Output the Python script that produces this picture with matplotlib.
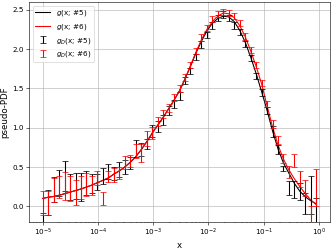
import numpy as np
import matplotlib
matplotlib.use('Agg')
import matplotlib.pyplot as plt

# x grid of the 51 bins (log spaced, 1e-5 .. 0.9)
x = np.geomspace(1e-5, 0.9, 51)

# smooth curves g(x; #5) and g(x; #6)
g5 = [0.10, 0.115, 0.125, 0.14, 0.16, 0.18, 0.20, 0.22, 0.245, 0.27,
      0.30, 0.33, 0.36, 0.41, 0.45, 0.50, 0.56, 0.63, 0.72, 0.82,
      0.93, 1.03, 1.13, 1.24, 1.35, 1.47, 1.62, 1.78, 1.95, 2.10,
      2.23, 2.33, 2.39, 2.42, 2.41, 2.35, 2.24, 2.09, 1.90, 1.69,
      1.46, 1.22, 0.96, 0.73, 0.55, 0.42, 0.29, 0.19, 0.12, 0.07,
      0.03]
g6 = [0.10, 0.115, 0.125, 0.14, 0.16, 0.18, 0.20, 0.22, 0.245, 0.27,
      0.30, 0.33, 0.36, 0.41, 0.45, 0.50, 0.56, 0.63, 0.72, 0.82,
      0.93, 1.03, 1.13, 1.24, 1.35, 1.47, 1.62, 1.79, 1.96, 2.12,
      2.25, 2.35, 2.42, 2.46, 2.45, 2.40, 2.30, 2.16, 1.98, 1.78,
      1.56, 1.28, 1.01, 0.78, 0.60, 0.46, 0.35, 0.25, 0.16, 0.08,
      0.02]

# binned data g_D with errors
gd5 = [-0.20, 0.05, 0.215, 0.30, 0.385, 0.24, 0.26, 0.245, 0.295, 0.29,
       0.31, 0.39, 0.44, 0.42, 0.47, 0.50, 0.55, 0.74, 0.72, 0.79,
       0.96, 1.02, 1.10, 1.22, 1.30, 1.40, 1.60, 1.72, 1.90, 2.06,
       2.18, 2.30, 2.40, 2.44, 2.40, 2.30, 2.22, 2.07, 1.89, 1.66,
       1.45, 1.22, 0.95, 0.725, 0.48, 0.235, 0.215, 0.19, 0.035, 0.14,
       -0.08]
err5 = [0.12, 0.155, 0.157, 0.165, 0.19, 0.165, 0.17, 0.175, 0.155, 0.12,
        0.10, 0.10, 0.095, 0.08, 0.10, 0.09, 0.08, 0.11, 0.085, 0.065,
        0.08, 0.07, 0.06, 0.06, 0.05, 0.05, 0.04, 0.04, 0.04, 0.04,
        0.04, 0.04, 0.04, 0.04, 0.04, 0.04, 0.04, 0.04, 0.04, 0.04,
        0.04, 0.045, 0.07, 0.06, 0.035, 0.085, 0.105, 0.11, 0.135, 0.24,
        0.19]
gd6 = [0.045, 0.04, 0.21, 0.25, 0.26, 0.23, 0.18, 0.24, 0.28, 0.27,
       0.36, 0.10, 0.38, 0.40, 0.42, 0.555, 0.575, 0.705, 0.68, 0.865,
       0.93, 1.08, 1.17, 1.25, 1.38, 1.50, 1.64, 1.80, 1.98, 2.15,
       2.27, 2.38, 2.45, 2.47, 2.46, 2.42, 2.33, 2.16, 1.99, 1.80,
       1.57, 1.30, 1.05, 0.84, 0.61, 0.44, 0.58, 0.345, 0.235, -0.13,
       0.235]
err6 = [0.155, 0.15, 0.155, 0.14, 0.18, 0.16, 0.16, 0.15, 0.15, 0.12,
        0.09, 0.085, 0.07, 0.09, 0.075, 0.085, 0.08, 0.085, 0.11, 0.095,
        0.075, 0.06, 0.05, 0.05, 0.045, 0.04, 0.04, 0.04, 0.04, 0.04,
        0.04, 0.04, 0.04, 0.04, 0.04, 0.04, 0.04, 0.04, 0.04, 0.04,
        0.04, 0.04, 0.05, 0.05, 0.06, 0.075, 0.08, 0.105, 0.105, 0.14,
        0.235]

fig, ax = plt.subplots(figsize=(6.4, 4.8), dpi=51.875)
fig.subplots_adjust(left=29/332, right=330/332, bottom=27/249, top=247/249)

ax.plot(x, g5, color='black', lw=1.5, label='$g$(x; #5)')
ax.plot(x, g6, color='red', lw=1.5, label='$g$(x; #6)')
ax.errorbar(x, gd5, yerr=err5, fmt='none', ecolor='black', capsize=4,
            elinewidth=1.5, label='$g_D$(x; #5)')
ax.errorbar(x, gd6, yerr=err6, fmt='none', ecolor='red', capsize=4,
            elinewidth=1.5, label='$g_D$(x; #6)')

ax.set_xscale('log')
ax.set_ylim(-0.2, 2.6)
ax.set_xlabel('x', fontsize=12)
ax.set_ylabel('pseudo-PDF', fontsize=12)
ax.grid(True)
ax.legend(loc='upper left')

fig.savefig('out.png')
